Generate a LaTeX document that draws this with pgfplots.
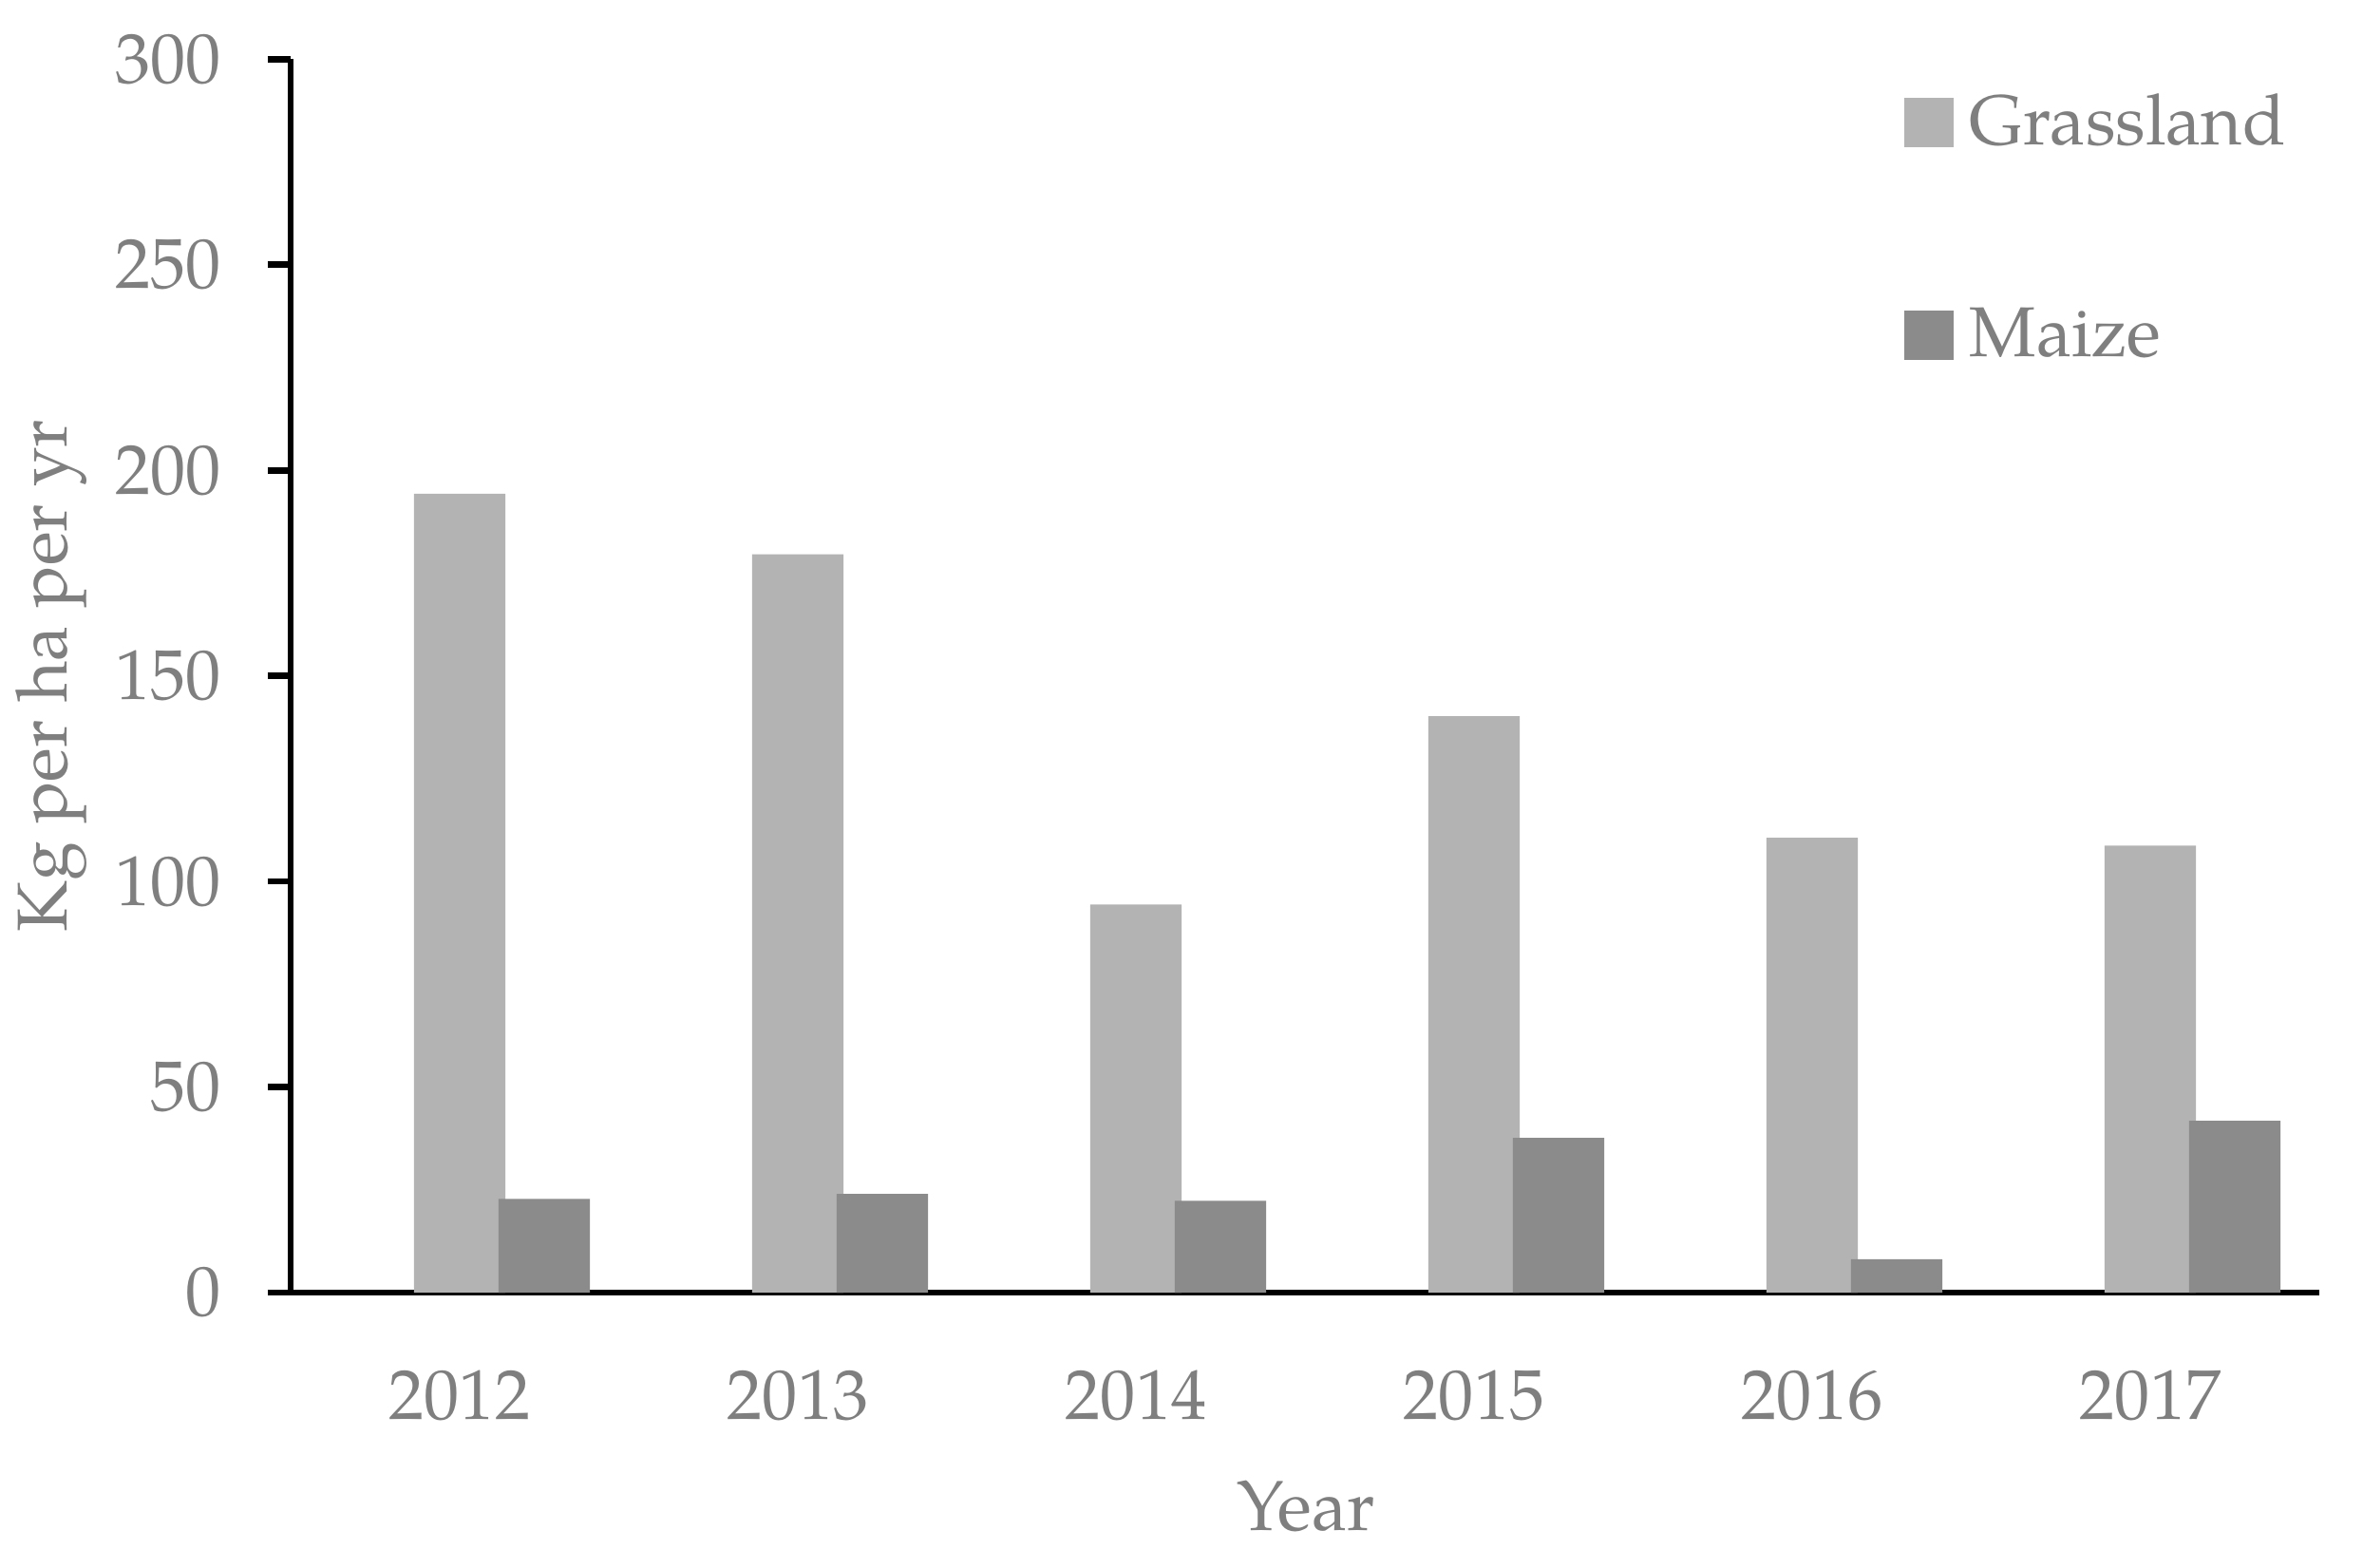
\documentclass[border=0pt]{standalone}
\usepackage{pgfplots}
\pgfplotsset{compat=1.18}
\usepackage{fontspec}
\setmainfont{TeX Gyre Pagella}
\definecolor{txt}{RGB}{127,127,127}
\definecolor{grass}{RGB}{179,179,179}
\definecolor{maize}{RGB}{139,139,139}
\newcommand\fs{\fontsize{22.3}{26.8}\selectfont}
\begin{document}
\begin{tikzpicture}
\begin{axis}[
  scale only axis, width=640.8pt, height=389.6pt,
  xmin=-0.5, xmax=5.5, ymin=0, ymax=300,
  axis lines=left, axis line style={-, line width=2pt, black},
  xtick={0,1,2,3,4,5},
  xticklabels={2012,2013,2014,2015,2016,2017},
  ytick={0,50,100,150,200,250,300},
  tick align=outside, major tick length=7.2pt,
  xtick style={draw=none}, ytick style={line width=2pt, black},
  /pgf/number format/assume math mode=true,
  tick label style={font=\fs, text=txt},
  yticklabel style={anchor=east, inner sep=0pt, xshift=-14.6pt},
  xticklabel style={anchor=north, inner sep=0pt, yshift=-17.1pt},
  every axis y label/.style={at={(axis description cs:-0.11016,0.5)}, rotate=90, anchor=base, font=\fs, text=txt},
  every axis x label/.style={at={(axis description cs:0.5005,-0.19304)}, anchor=base, font=\fs, text=txt},
  xlabel={Year}, ylabel={Kg per ha per yr},
  legend image code/.code={\fill[#1] (0pt,-8.2pt) rectangle (15.6pt,7.4pt);},
  legend cell align=left,
  legend style={at={(0.7954,0.9723)}, anchor=north west, draw=none, fill=none,
    inner sep=0pt, outer sep=0pt, row sep=49.9pt, font=\fs, text=txt,
    nodes={inner sep=0pt},
    /tikz/every odd column/.append style={column sep=5.1pt}},
]
\addplot[ybar, bar width=0.27, bar shift=0, fill=grass, draw=none]
  coordinates {(0,194.3) (1,179.6) (2,94.4) (3,140.2) (4,110.6) (5,108.7)};
\addlegendentry{Grassland}
\addplot[ybar, bar width=0.27, bar shift=0.25, fill=maize, draw=none]
  coordinates {(0,22.8) (1,24.0) (2,22.3) (3,37.6) (4,8.1) (5,41.8)};
\addlegendentry{Maize}
\end{axis}
\pgfresetboundingbox
\path[use as bounding box] ([shift={(-91.8pt,-86.7pt)}]current axis.south west) rectangle ([shift={(654.6pt,408.3pt)}]current axis.south west);
\end{tikzpicture}
\end{document}
